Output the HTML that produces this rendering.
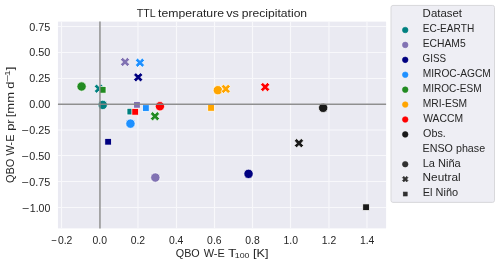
<!DOCTYPE html>
<html><head><meta charset="utf-8"><style>
html,body{margin:0;padding:0;background:#fff;width:500px;height:264px;overflow:hidden;}
svg{display:block;will-change:transform;filter:blur(0.35px);}
</style></head><body>
<svg width="500" height="264" viewBox="0 0 500 264" font-family='"Liberation Sans", sans-serif'><rect x="57.95" y="21.6" width="328.15" height="206.80" fill="#EAEAF2"/>
<line x1="61.50" y1="21.6" x2="61.50" y2="228.4" stroke="#F8F8FB" stroke-width="1.1"/>
<line x1="99.70" y1="21.6" x2="99.70" y2="228.4" stroke="#F8F8FB" stroke-width="1.1"/>
<line x1="138.00" y1="21.6" x2="138.00" y2="228.4" stroke="#F8F8FB" stroke-width="1.1"/>
<line x1="176.50" y1="21.6" x2="176.50" y2="228.4" stroke="#F8F8FB" stroke-width="1.1"/>
<line x1="214.50" y1="21.6" x2="214.50" y2="228.4" stroke="#F8F8FB" stroke-width="1.1"/>
<line x1="252.50" y1="21.6" x2="252.50" y2="228.4" stroke="#F8F8FB" stroke-width="1.1"/>
<line x1="290.50" y1="21.6" x2="290.50" y2="228.4" stroke="#F8F8FB" stroke-width="1.1"/>
<line x1="329.00" y1="21.6" x2="329.00" y2="228.4" stroke="#F8F8FB" stroke-width="1.1"/>
<line x1="367.00" y1="21.6" x2="367.00" y2="228.4" stroke="#F8F8FB" stroke-width="1.1"/>
<line x1="57.95" y1="207.50" x2="386.1" y2="207.50" stroke="#F8F8FB" stroke-width="1.1"/>
<line x1="57.95" y1="181.50" x2="386.1" y2="181.50" stroke="#F8F8FB" stroke-width="1.1"/>
<line x1="57.95" y1="155.50" x2="386.1" y2="155.50" stroke="#F8F8FB" stroke-width="1.1"/>
<line x1="57.95" y1="130.00" x2="386.1" y2="130.00" stroke="#F8F8FB" stroke-width="1.1"/>
<line x1="57.95" y1="104.15" x2="386.1" y2="104.15" stroke="#F8F8FB" stroke-width="1.1"/>
<line x1="57.95" y1="78.50" x2="386.1" y2="78.50" stroke="#F8F8FB" stroke-width="1.1"/>
<line x1="57.95" y1="52.50" x2="386.1" y2="52.50" stroke="#F8F8FB" stroke-width="1.1"/>
<line x1="57.95" y1="26.50" x2="386.1" y2="26.50" stroke="#F8F8FB" stroke-width="1.1"/>
<circle cx="102.70" cy="104.90" r="4.65" fill="#008080" stroke="#fff" stroke-width="0.7"/>
<polygon points="96.58,84.05 98.90,86.38 101.23,84.05 103.55,86.38 101.23,88.70 103.55,91.03 101.23,93.35 98.90,91.03 96.58,93.35 94.25,91.03 96.58,88.70 94.25,86.38" fill="#008080" stroke="#fff" stroke-width="0.7" stroke-linejoin="miter"/>
<rect x="127.01" y="108.31" width="6.58" height="6.58" fill="#008080" stroke="#fff" stroke-width="0.7"/>
<circle cx="155.34" cy="177.53" r="4.65" fill="#8172B3" stroke="#fff" stroke-width="0.7"/>
<polygon points="122.70,57.31 125.03,59.63 127.36,57.31 129.68,59.63 127.36,61.96 129.68,64.28 127.36,66.61 125.03,64.28 122.70,66.61 120.38,64.28 122.70,61.96 120.38,59.63" fill="#8172B3" stroke="#fff" stroke-width="0.7" stroke-linejoin="miter"/>
<rect x="133.68" y="101.56" width="6.58" height="6.58" fill="#8172B3" stroke="#fff" stroke-width="0.7"/>
<circle cx="248.53" cy="173.85" r="4.65" fill="#000080" stroke="#fff" stroke-width="0.7"/>
<polygon points="135.88,72.65 138.20,74.97 140.52,72.65 142.85,74.97 140.52,77.30 142.85,79.62 140.52,81.95 138.20,79.62 135.88,81.95 133.55,79.62 135.88,77.30 133.55,74.97" fill="#000080" stroke="#fff" stroke-width="0.7" stroke-linejoin="miter"/>
<rect x="104.81" y="138.48" width="6.58" height="6.58" fill="#000080" stroke="#fff" stroke-width="0.7"/>
<circle cx="130.45" cy="123.66" r="4.65" fill="#1E90FF" stroke="#fff" stroke-width="0.7"/>
<polygon points="137.61,58.07 139.93,60.39 142.25,58.07 144.58,60.39 142.25,62.72 144.58,65.05 142.25,67.37 139.93,65.05 137.61,67.37 135.28,65.05 137.61,62.72 135.28,60.39" fill="#1E90FF" stroke="#fff" stroke-width="0.7" stroke-linejoin="miter"/>
<rect x="142.61" y="104.74" width="6.58" height="6.58" fill="#1E90FF" stroke="#fff" stroke-width="0.7"/>
<circle cx="81.58" cy="86.50" r="4.65" fill="#228B22" stroke="#fff" stroke-width="0.7"/>
<polygon points="152.64,111.58 154.96,113.91 157.28,111.58 159.61,113.91 157.28,116.23 159.61,118.56 157.28,120.88 154.96,118.56 152.64,120.88 150.31,118.56 152.64,116.23 150.31,113.91" fill="#228B22" stroke="#fff" stroke-width="0.7" stroke-linejoin="miter"/>
<rect x="99.41" y="86.56" width="6.58" height="6.58" fill="#228B22" stroke="#fff" stroke-width="0.7"/>
<circle cx="217.85" cy="90.20" r="4.65" fill="#FFA500" stroke="#fff" stroke-width="0.7"/>
<polygon points="223.48,84.25 225.80,86.58 228.12,84.25 230.45,86.58 228.12,88.90 230.45,91.23 228.12,93.55 225.80,91.23 223.48,93.55 221.15,91.23 223.48,88.90 221.15,86.58" fill="#FFA500" stroke="#fff" stroke-width="0.7" stroke-linejoin="miter"/>
<rect x="207.75" y="104.61" width="6.58" height="6.58" fill="#FFA500" stroke="#fff" stroke-width="0.7"/>
<circle cx="159.93" cy="106.23" r="4.65" fill="#FF0000" stroke="#fff" stroke-width="0.7"/>
<polygon points="262.82,82.39 265.15,84.72 267.47,82.39 269.80,84.72 267.47,87.04 269.80,89.37 267.47,91.69 265.15,89.37 262.82,91.69 260.50,89.37 262.82,87.04 260.50,84.72" fill="#FF0000" stroke="#fff" stroke-width="0.7" stroke-linejoin="miter"/>
<rect x="131.86" y="108.56" width="6.58" height="6.58" fill="#FF0000" stroke="#fff" stroke-width="0.7"/>
<circle cx="323.15" cy="107.84" r="4.65" fill="#1A1A1A" stroke="#fff" stroke-width="0.7"/>
<polygon points="296.63,138.50 298.96,140.83 301.28,138.50 303.61,140.83 301.28,143.15 303.61,145.47 301.28,147.80 298.96,145.47 296.63,147.80 294.31,145.47 296.63,143.15 294.31,140.83" fill="#1A1A1A" stroke="#fff" stroke-width="0.7" stroke-linejoin="miter"/>
<rect x="362.75" y="203.91" width="6.58" height="6.58" fill="#1A1A1A" stroke="#fff" stroke-width="0.7"/>
<line x1="57.95" y1="104.3" x2="386.1" y2="104.3" stroke="#858585" stroke-opacity="0.92" stroke-width="1.5"/>
<line x1="99.95" y1="21.6" x2="99.95" y2="228.4" stroke="#858585" stroke-opacity="0.92" stroke-width="1.5"/>
<rect x="391" y="5.45" width="103.5" height="196.95" rx="2" ry="2" fill="#EEEEF4" stroke="#D5D5D8" stroke-width="0.9"/>
<circle cx="405.23" cy="30.01" r="2.80" fill="#008080" stroke="#008080" stroke-width="0.6"/>
<circle cx="405.23" cy="44.92" r="2.80" fill="#8172B3" stroke="#8172B3" stroke-width="0.6"/>
<circle cx="405.23" cy="59.83" r="2.80" fill="#000080" stroke="#000080" stroke-width="0.6"/>
<circle cx="405.23" cy="74.74" r="2.80" fill="#1E90FF" stroke="#1E90FF" stroke-width="0.6"/>
<circle cx="405.23" cy="89.65" r="2.80" fill="#228B22" stroke="#228B22" stroke-width="0.6"/>
<circle cx="405.23" cy="104.56" r="2.80" fill="#FFA500" stroke="#FFA500" stroke-width="0.6"/>
<circle cx="405.23" cy="119.47" r="2.80" fill="#FF0000" stroke="#FF0000" stroke-width="0.6"/>
<circle cx="405.23" cy="134.38" r="2.80" fill="#1A1A1A" stroke="#1A1A1A" stroke-width="0.6"/>
<circle cx="405.23" cy="164.20" r="2.80" fill="#303030" stroke="#303030" stroke-width="0.6"/>
<polygon points="403.83,176.31 405.23,177.71 406.63,176.31 408.03,177.71 406.63,179.11 408.03,180.51 406.63,181.91 405.23,180.51 403.83,181.91 402.43,180.51 403.83,179.11 402.43,177.71" fill="#303030" stroke="#303030" stroke-width="0.6" stroke-linejoin="miter"/>
<rect x="403.25" y="192.04" width="3.96" height="3.96" fill="#303030" stroke="#303030" stroke-width="0.6"/>
<text x="50.40" y="211.70" text-anchor="end" font-size="10.4" fill="#262626"><tspan textLength="7.3" lengthAdjust="spacingAndGlyphs">−</tspan><tspan dx="0.7" textLength="20.6" lengthAdjust="spacingAndGlyphs">1.00</tspan></text>
<text x="50.40" y="185.85" text-anchor="end" font-size="10.4" fill="#262626"><tspan textLength="7.3" lengthAdjust="spacingAndGlyphs">−</tspan><tspan dx="0.7" textLength="21.1" lengthAdjust="spacingAndGlyphs">0.75</tspan></text>
<text x="50.40" y="160.00" text-anchor="end" font-size="10.4" fill="#262626"><tspan textLength="7.3" lengthAdjust="spacingAndGlyphs">−</tspan><tspan dx="0.7" textLength="21.1" lengthAdjust="spacingAndGlyphs">0.50</tspan></text>
<text x="50.40" y="134.15" text-anchor="end" font-size="10.4" fill="#262626"><tspan textLength="7.3" lengthAdjust="spacingAndGlyphs">−</tspan><tspan dx="0.7" textLength="21.1" lengthAdjust="spacingAndGlyphs">0.25</tspan></text>
<text x="50.40" y="108.30" text-anchor="end" font-size="10.4" fill="#262626"><tspan textLength="21.1" lengthAdjust="spacingAndGlyphs">0.00</tspan></text>
<text x="50.40" y="82.45" text-anchor="end" font-size="10.4" fill="#262626"><tspan textLength="21.1" lengthAdjust="spacingAndGlyphs">0.25</tspan></text>
<text x="50.40" y="56.00" text-anchor="end" font-size="10.4" fill="#262626"><tspan textLength="21.1" lengthAdjust="spacingAndGlyphs">0.50</tspan></text>
<text x="50.40" y="30.75" text-anchor="end" font-size="10.4" fill="#262626"><tspan textLength="21.1" lengthAdjust="spacingAndGlyphs">0.75</tspan></text>
<text x="61.74" y="243.70" text-anchor="middle" font-size="10.4" fill="#262626"><tspan textLength="5.6" lengthAdjust="spacingAndGlyphs">−</tspan><tspan dx="1.3">0.2</tspan></text>
<text x="99.70" y="243.70" text-anchor="middle" font-size="10.4" fill="#262626">0.0</text>
<text x="137.91" y="243.70" text-anchor="middle" font-size="10.4" fill="#262626">0.2</text>
<text x="176.12" y="243.70" text-anchor="middle" font-size="10.4" fill="#262626">0.4</text>
<text x="214.34" y="243.70" text-anchor="middle" font-size="10.4" fill="#262626">0.6</text>
<text x="252.55" y="243.70" text-anchor="middle" font-size="10.4" fill="#262626">0.8</text>
<text x="290.76" y="243.70" text-anchor="middle" font-size="10.4" fill="#262626">1.0</text>
<text x="328.97" y="243.70" text-anchor="middle" font-size="10.4" fill="#262626">1.2</text>
<text x="367.18" y="243.70" text-anchor="middle" font-size="10.4" fill="#262626">1.4</text>
<text x="136.74" y="16.70" font-size="11.2" fill="#262626" textLength="18.86" lengthAdjust="spacingAndGlyphs">TTL</text>
<text x="158.07" y="16.70" font-size="11.2" fill="#262626" textLength="65.99" lengthAdjust="spacingAndGlyphs">temperature</text>
<text x="226.24" y="16.70" font-size="11.2" fill="#262626" textLength="12.76" lengthAdjust="spacingAndGlyphs">vs</text>
<text x="241.82" y="16.70" font-size="11.2" fill="#262626" textLength="65.29" lengthAdjust="spacingAndGlyphs">precipitation</text>
<text x="175.75" y="256.80" font-size="11" fill="#262626" textLength="23.94" lengthAdjust="spacingAndGlyphs">QBO</text>
<text x="203.64" y="256.80" font-size="11" fill="#262626" textLength="21.09" lengthAdjust="spacingAndGlyphs">W-E</text>
<text x="228.00" y="256.80" font-size="11" fill="#262626" textLength="8.42" lengthAdjust="spacingAndGlyphs">T</text>
<text x="234.76" y="258.30" font-size="8" fill="#262626" textLength="14.74" lengthAdjust="spacingAndGlyphs">100</text>
<text x="253.02" y="256.80" font-size="11" fill="#262626" textLength="15.49" lengthAdjust="spacingAndGlyphs">[K]</text>
<text transform="translate(14.20,182.98) rotate(-90)" font-size="11" fill="#262626" textLength="24.10" lengthAdjust="spacingAndGlyphs">QBO</text>
<text transform="translate(14.20,155.39) rotate(-90)" font-size="11" fill="#262626" textLength="20.77" lengthAdjust="spacingAndGlyphs">W-E</text>
<text transform="translate(14.20,130.87) rotate(-90)" font-size="11" fill="#262626" textLength="11.50" lengthAdjust="spacingAndGlyphs">pr</text>
<text transform="translate(14.20,117.26) rotate(-90)" font-size="11" fill="#262626" textLength="25.36" lengthAdjust="spacingAndGlyphs">[mm</text>
<text transform="translate(14.20,88.84) rotate(-90)" font-size="11" fill="#262626" textLength="7.22" lengthAdjust="spacingAndGlyphs">d</text>
<text transform="translate(10.00,81.85) rotate(-90)" font-size="8" fill="#262626" textLength="7.47" lengthAdjust="spacingAndGlyphs">−</text>
<text transform="translate(10.00,76.12) rotate(-90)" font-size="8" fill="#262626" textLength="5.80" lengthAdjust="spacingAndGlyphs">1</text>
<text transform="translate(14.20,70.59) rotate(-90)" font-size="11" fill="#262626" textLength="4.19" lengthAdjust="spacingAndGlyphs">]</text>
<text x="422.64" y="17.45" font-size="10.4" fill="#262626" textLength="39.42" lengthAdjust="spacingAndGlyphs">Dataset</text>
<text x="422.73" y="32.36" font-size="10.4" fill="#262626" textLength="51.49" lengthAdjust="spacingAndGlyphs">EC-EARTH</text>
<text x="422.66" y="47.27" font-size="10.4" fill="#262626" textLength="43.08" lengthAdjust="spacingAndGlyphs">ECHAM5</text>
<text x="422.59" y="62.18" font-size="10.4" fill="#262626" textLength="23.53" lengthAdjust="spacingAndGlyphs">GISS</text>
<text x="422.69" y="77.09" font-size="10.4" fill="#262626" textLength="68.08" lengthAdjust="spacingAndGlyphs">MIROC-AGCM</text>
<text x="422.72" y="92.00" font-size="10.4" fill="#262626" textLength="58.90" lengthAdjust="spacingAndGlyphs">MIROC-ESM</text>
<text x="422.68" y="106.91" font-size="10.4" fill="#262626" textLength="44.49" lengthAdjust="spacingAndGlyphs">MRI-ESM</text>
<text x="423.26" y="121.82" font-size="10.4" fill="#262626" textLength="39.80" lengthAdjust="spacingAndGlyphs">WACCM</text>
<text x="423.04" y="136.73" font-size="10.4" fill="#262626" textLength="22.73" lengthAdjust="spacingAndGlyphs">Obs.</text>
<text x="422.59" y="151.64" font-size="10.4" fill="#262626" textLength="62.56" lengthAdjust="spacingAndGlyphs">ENSO phase</text>
<text x="422.72" y="166.55" font-size="10.4" fill="#262626" textLength="38.04" lengthAdjust="spacingAndGlyphs">La Niña</text>
<text x="422.56" y="181.46" font-size="10.4" fill="#262626" textLength="38.06" lengthAdjust="spacingAndGlyphs">Neutral</text>
<text x="422.75" y="196.37" font-size="10.4" fill="#262626" textLength="35.32" lengthAdjust="spacingAndGlyphs">El Niño</text></svg>
</body></html>
